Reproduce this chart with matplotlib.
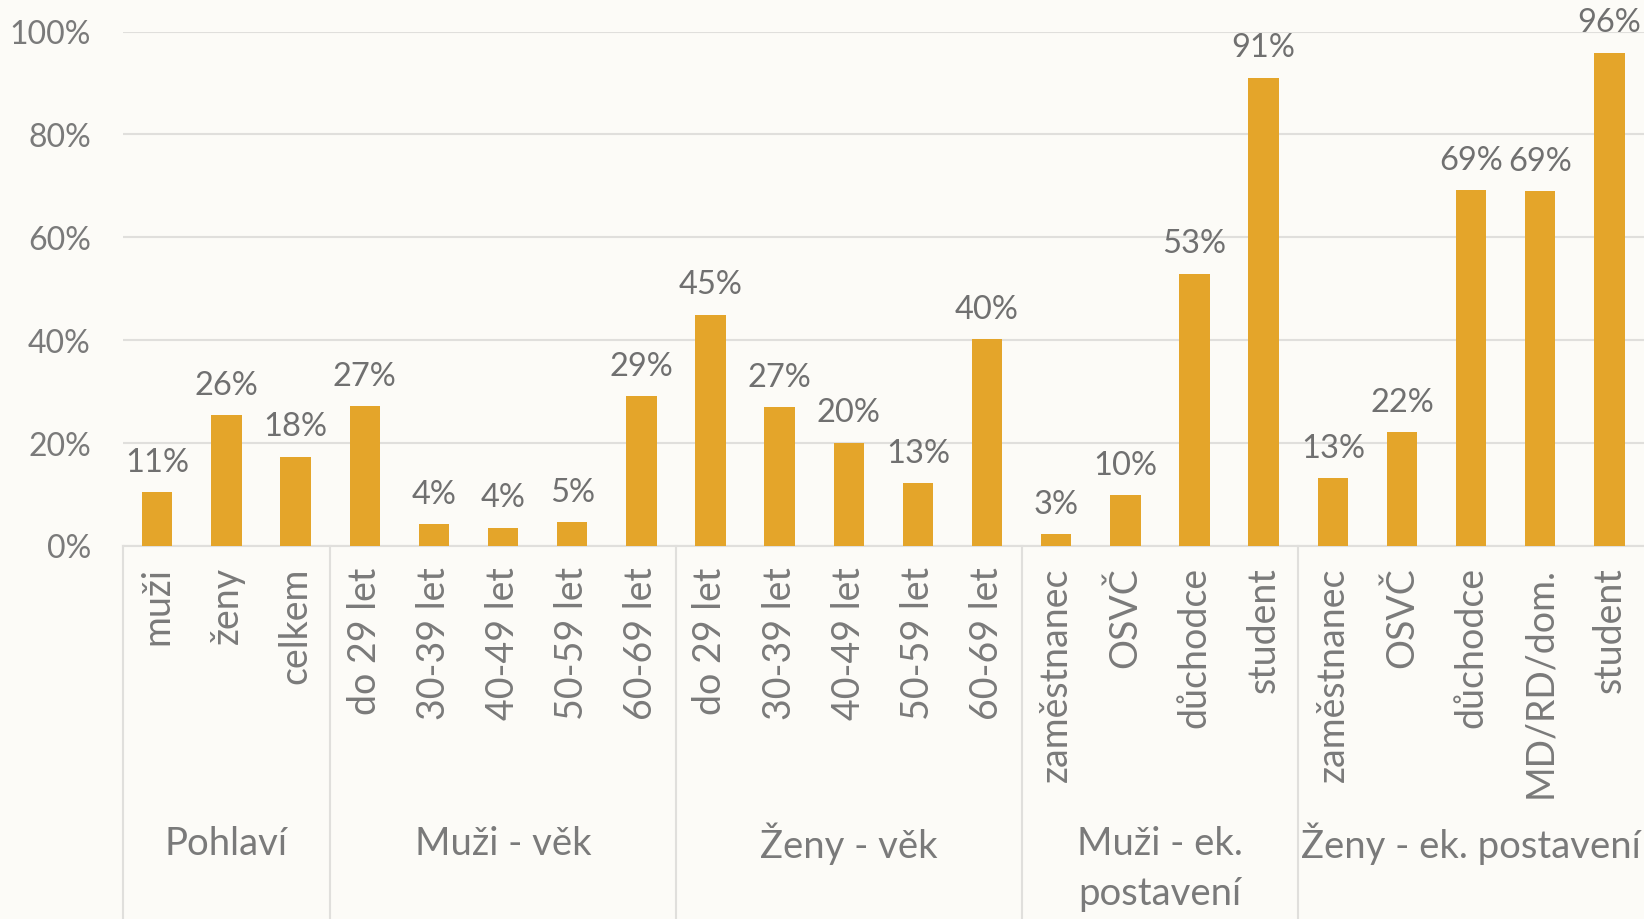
import matplotlib.pyplot as plt
import numpy as np

plt.rcParams["font.family"] = ["Lato", "DejaVu Sans"]

# data
categories = [
    "muži", "ženy", "celkem",
    "do 29 let", "30-39 let", "40-49 let", "50-59 let", "60-69 let",
    "do 29 let", "30-39 let", "40-49 let", "50-59 let", "60-69 let",
    "zaměstnanec", "OSVČ", "důchodce", "student",
    "zaměstnanec", "OSVČ", "důchodce", "MD/RD/dom.", "student",
]
values = [
    10.4, 25.3, 17.3,
    27.1, 4.1, 3.5, 4.5, 29.0,
    44.9, 26.9, 20.0, 12.2, 40.2,
    2.2, 9.8, 52.9, 91.0,
    13.1, 22.0, 69.2, 69.0, 95.9,
]
value_labels = [
    "11%", "26%", "18%",
    "27%", "4%", "4%", "5%", "29%",
    "45%", "27%", "20%", "13%", "40%",
    "3%", "10%", "53%", "91%",
    "13%", "22%", "69%", "69%", "96%",
]
group_names = ["Pohlaví", "Muži - věk", "Ženy - věk", "Muži - ek.\npostavení",
               "Ženy - ek. postavení"]
group_sizes = [3, 5, 5, 4, 5]

BG = "#FCFBF7"
BAR = "#E4A52A"
GRID = "#E0DFDC"
TEXT = "#7A7A7A"

W, H = 1644, 920
fig = plt.figure(figsize=(W / 100, H / 100), dpi=100, facecolor=BG)
left, right = 122.7 / W, 1.0
bottom, top = 1 - 546.5 / H, 1 - 32.5 / H
ax_h = 546.5 - 32.5
ax = fig.add_axes([left, bottom, right - left, top - bottom], facecolor=BG)

x = np.arange(len(categories))
ax.bar(x, values, width=0.44, color=BAR, zorder=3)
for xi, v, lab in zip(x, values, value_labels):
    ax.annotate(lab, (xi, v), xytext=(0, 11), textcoords="offset points",
                ha="center", va="bottom", fontsize=23.5, color="#707070",
                annotation_clip=False)

ax.set_xlim(-0.5, len(categories) - 0.5)
ax.set_ylim(0, 100)
ax.set_yticks(range(0, 101, 20))
ax.set_yticklabels([f"{t}%" for t in range(0, 101, 20)], fontsize=23, color=TEXT)
ax.tick_params(axis="y", length=0, pad=23)
ax.grid(axis="y", color=GRID, linewidth=1.5, zorder=0)
for side in ("top", "right", "left"):
    ax.spines[side].set_visible(False)
ax.spines["bottom"].set_color(GRID)
ax.spines["bottom"].set_linewidth(1.5)

ax.set_xticks(x)
ax.set_xticklabels(categories, rotation=90, fontsize=27, color=TEXT,
                   va="top", ha="center")
ax.tick_params(axis="x", length=0, pad=15)

# group separators and group labels below the axis
trans = ax.get_xaxis_transform()
start = 0
bounds = [-0.5]
for size in group_sizes:
    start += size
    bounds.append(start - 0.5)
for b in bounds[:-1]:
    ax.plot([b, b], [0, -1.0], transform=trans, color=GRID, linewidth=1.5,
            clip_on=False)
for name, lo, hi in zip(group_names, bounds[:-1], bounds[1:]):
    for i, line in enumerate(name.split("\n")):
        ax.text((lo + hi) / 2, -(297.5 + 50 * i) / ax_h, line, transform=trans,
                ha="center", va="center", fontsize=27.5, color=TEXT)

fig.savefig("out.png", dpi=100, facecolor=BG)
